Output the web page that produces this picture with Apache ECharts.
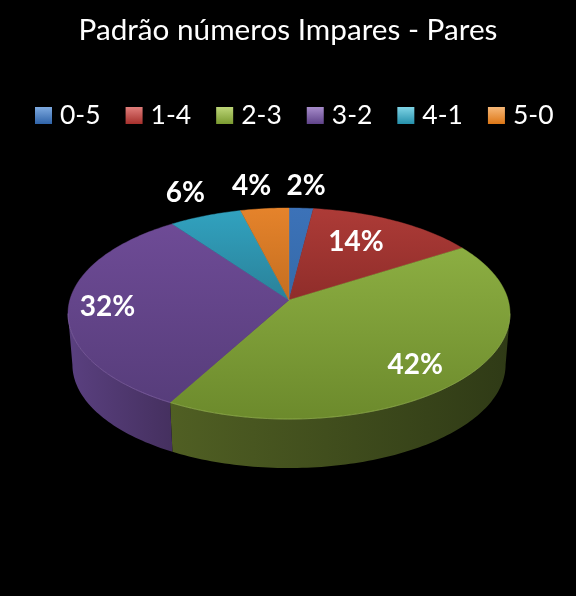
<!DOCTYPE html>
<html><head><meta charset="utf-8">
<style>html,body{margin:0;padding:0;background:#000}#c{width:576px;height:596px}</style>
<script src="https://cdn.jsdelivr.net/npm/echarts@6/dist/echarts.min.js"></script>
</head><body><div id="c"></div>
<script>
const titleText = 'Padrão números Impares - Pares';
const categories = ['0-5', '1-4', '2-3', '3-2', '4-1', '5-0'];
const values = [2, 14, 42, 32, 6, 4];

// Styles per slice: top gradient, wall gradient (left to right), rim highlight, legend swatch
const topColors = [['#3c72b8','#356aa9'],['#ad3b37','#8f2d2a'],['#8cae42','#6c8a2c'],['#6e4b96','#573d7b'],['#31a2bf','#2a8199'],['#e5832b','#c46e20']];
const wallColors = [['#22406a','#1c3558'],['#6b2422','#571c1a'],['#505f23','#2f3a16'],['#5a4080','#45305f'],['#1d5f72','#174c5b'],['#8a4f1a','#6f3f14']];
const rimColors = ['#6d98d0','#cc6663','#93ad52','#8568a8','#63bcd2','#f0a860'];
const swatch = [['#7eaae0','#2f63a8'],['#e07e7b','#a6302c'],['#bdd678','#7a9a30'],['#a78ccb','#5f4389'],['#7fd4e6','#2590ab'],['#f7b878','#dd7716']];

// Projection of the tilted disc
const view = {cx:289, cy:300, a:219.2, b:103.8, k:0.128, depth:51.4, shrink:0.98};
// Label offset from the midpoint of each slice's rim
const labelShift = [[5,-22],[-39,21],[-49,-13],[39,0],[-20,-23],[-13,-23]];

const total = values.reduce((s,v)=>s+v,0);
function project(theta){
  const u=Math.sin(theta), v=-Math.cos(theta), w=1-view.k*v;
  return [view.cx+view.a*u/w, view.cy+view.b*v/w];
}
function lower(p){
  return [view.cx+(p[0]-view.cx)*view.shrink, view.cy+view.depth+(p[1]-view.cy)*view.shrink];
}
function arc(t0,t1){
  const n=Math.max(2,Math.ceil(Math.abs(t1-t0)/0.02)), pts=[];
  for(let i=0;i<=n;i++) pts.push(project(t0+(t1-t0)*i/n));
  return pts;
}
function grad(c,x2,y2){
  return {type:'linear',x:0,y:0,x2:x2,y2:y2,colorStops:[{offset:0,color:c[0]},{offset:1,color:c[1]}]};
}
const frontStart = Math.PI-Math.acos(view.k), frontEnd = Math.PI+Math.acos(view.k);

function makeRender(idx){
  return function(params,api){
    const before = values.slice(0,idx).reduce((s,v)=>s+v,0);
    const t0 = before/total*2*Math.PI;
    const t1 = t0+api.value(0)/total*2*Math.PI;
    const children=[];
    const w0=Math.max(t0,frontStart), w1=Math.min(t1,frontEnd);
    if(w1>w0){
      const top=arc(w0,w1), bottom=top.map(lower).reverse();
      children.push({type:'polygon',shape:{points:top.concat(bottom)},style:{fill:grad(wallColors[idx],1,0)}});
    }
    children.push({type:'polygon',shape:{points:[[view.cx,view.cy]].concat(arc(t0,t1))},
      style:{fill:grad(topColors[idx],0,1),stroke:topColors[idx][0],lineWidth:0.4}});
    if(w1>w0){
      children.push({type:'polyline',shape:{points:arc(w0,w1)},style:{fill:'none',stroke:rimColors[idx],lineWidth:1,opacity:0.6}});
    }
    const mid=project((t0+t1)/2), sh=labelShift[idx];
    children.push({type:'text',z2:100,style:{text:api.value(0)+'%',x:mid[0]+sh[0],y:mid[1]+sh[1],
      fill:'#fff',font:'bold 28px Lato, "Open Sans", sans-serif',align:'center',verticalAlign:'middle'}});
    return {type:'group',children:children};
  };
}

const chart = echarts.init(document.getElementById('c'),null,{renderer:'canvas'});
chart.setOption({
  backgroundColor:'#000',
  animation:false,
  title:{text:titleText,left:'center',top:10,textStyle:{color:'#fff',fontFamily:'Lato',fontWeight:'normal',fontSize:29.7}},
  legend:{
    left:30,top:97,itemWidth:17,itemHeight:17,itemGap:25,icon:'rect',
    textStyle:{color:'#fff',fontFamily:'Lato',fontSize:26.5,padding:[0,0,0,3]},
    data:categories.map((c,i)=>({name:c,itemStyle:{color:grad(swatch[i],0,1)}}))
  },
  series:categories.map((c,i)=>({
    type:'custom',name:c,coordinateSystem:'none',silent:true,
    itemStyle:{color:topColors[i][0]},
    data:[[values[i]]],
    renderItem:makeRender(i)
  }))
});
</script></body></html>
